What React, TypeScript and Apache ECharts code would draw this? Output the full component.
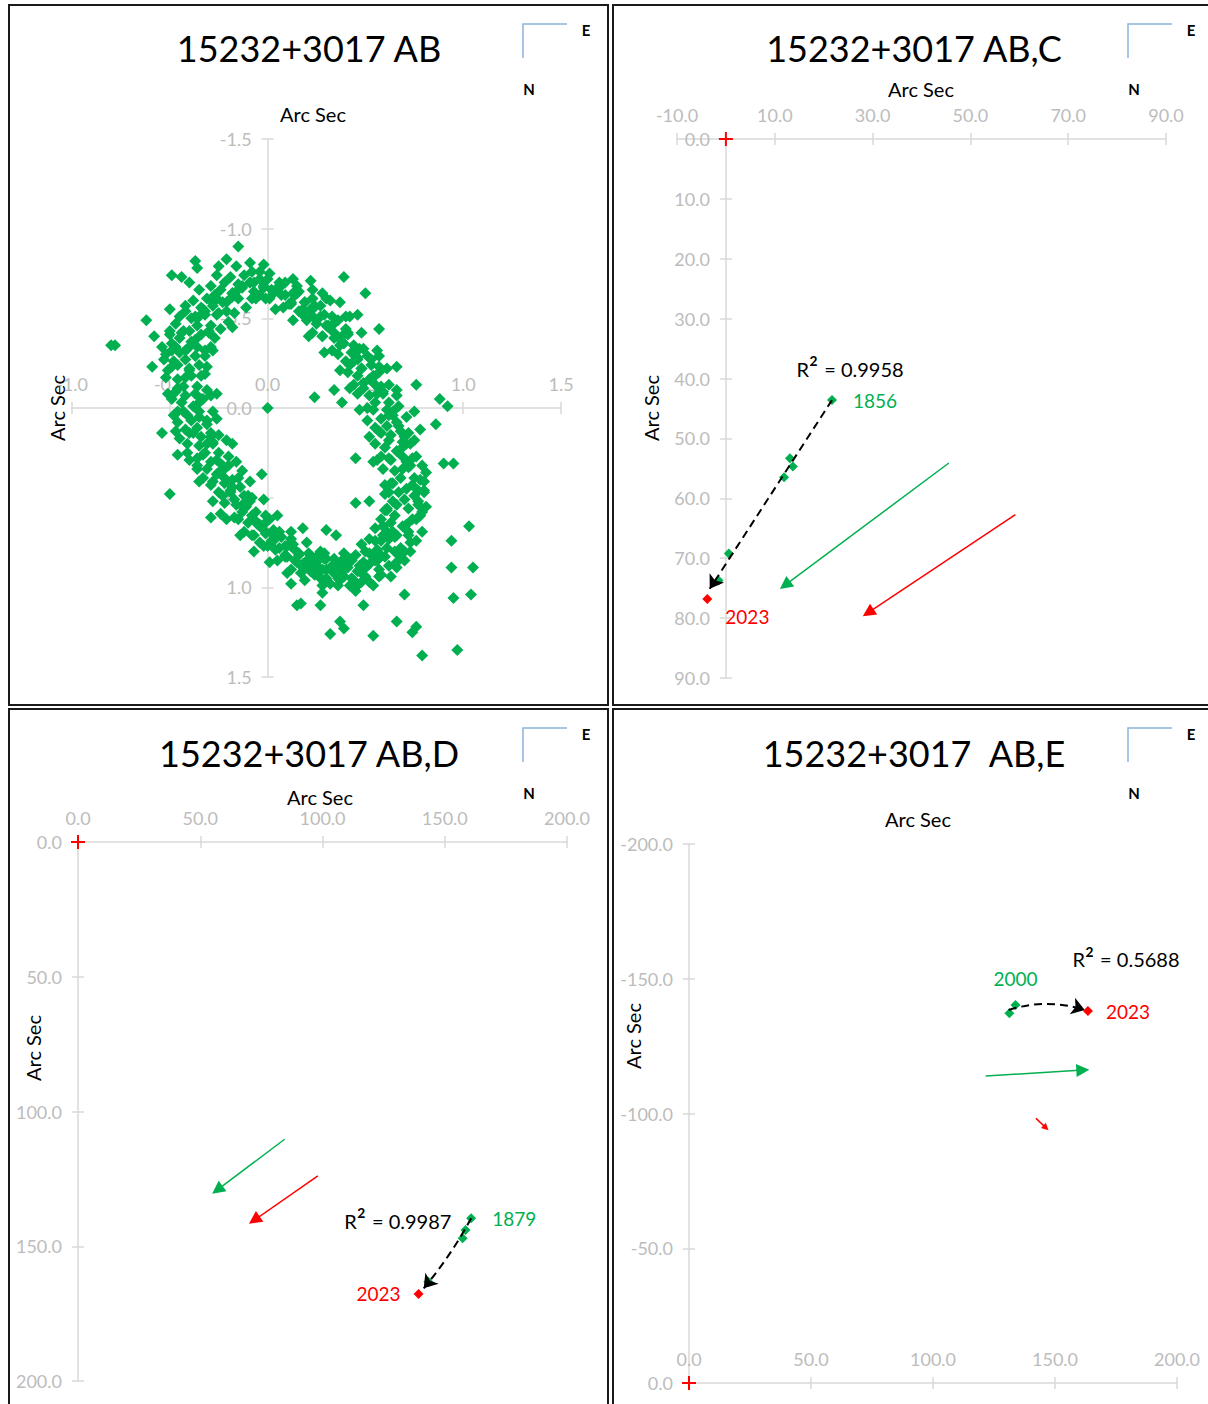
import React, { useEffect, useRef } from 'react';
import * as echarts from 'echarts';

const FONT = 'Lato, "Open Sans", sans-serif';
const GREEN = '#00B050';
const RED = '#FF0000';
const AXIS_COLOR = '#d9d9d9';
const LABEL_COLOR = '#bcbcbc';

// ---------- Panel 1 : 15232+3017 AB (relative positions, arc sec) ----------
const abPoints: number[][] = [
  [-0.09,-0.70],[-0.13,-0.67],[-0.04,-0.72],[-0.07,-0.65],[-0.12,-0.74],[-0.02,-0.67],[-0.15,-0.69],[-0.08,-0.76],
  [0.04,-0.66],[-0.02,-0.68],[0.07,-0.63],[0.01,-0.61],[0.09,-0.70],[0.00,-0.72],[0.06,-0.67],[-0.04,-0.63],
  [0.12,-0.59],[0.16,-0.65],[0.08,-0.56],[0.19,-0.59],[0.13,-0.64],[0.09,-0.63],[0.18,-0.55],[0.15,-0.68],
  [0.22,-0.55],[0.18,-0.52],[0.27,-0.57],[0.24,-0.50],[0.19,-0.59],[0.29,-0.52],[0.16,-0.54],[0.23,-0.61],
  [0.31,-0.45],[0.25,-0.47],[0.34,-0.42],[0.28,-0.40],[0.36,-0.49],[0.27,-0.51],[0.33,-0.46],[0.23,-0.42],
  [0.37,-0.35],[0.41,-0.41],[0.33,-0.32],[0.44,-0.35],[0.38,-0.40],[0.34,-0.39],[0.43,-0.31],[0.40,-0.44],
  [0.46,-0.27],[0.42,-0.24],[0.51,-0.29],[0.48,-0.22],[0.43,-0.31],[0.53,-0.24],[0.40,-0.26],[0.47,-0.33],
  [0.52,-0.16],[0.46,-0.18],[0.55,-0.13],[0.49,-0.11],[0.57,-0.20],[0.48,-0.22],[0.54,-0.17],[0.44,-0.13],
  [0.55,-0.03],[0.59,-0.09],[0.51,0.00],[0.62,-0.03],[0.56,-0.08],[0.52,-0.07],[0.61,0.01],[0.58,-0.12],
  [0.61,0.10],[0.57,0.13],[0.66,0.08],[0.63,0.15],[0.58,0.06],[0.68,0.13],[0.55,0.11],[0.62,0.04],
  [0.66,0.24],[0.60,0.22],[0.69,0.27],[0.63,0.29],[0.71,0.20],[0.62,0.18],[0.68,0.23],[0.58,0.27],
  [0.68,0.39],[0.72,0.33],[0.64,0.42],[0.75,0.39],[0.69,0.34],[0.65,0.35],[0.74,0.43],[0.71,0.30],
  [0.70,0.51],[0.66,0.54],[0.75,0.49],[0.72,0.56],[0.67,0.47],[0.77,0.54],[0.64,0.52],[0.71,0.45],
  [0.69,0.66],[0.63,0.64],[0.72,0.69],[0.66,0.71],[0.74,0.62],[0.65,0.60],[0.71,0.65],[0.61,0.69],
  [0.61,0.78],[0.65,0.72],[0.57,0.81],[0.68,0.78],[0.62,0.73],[0.58,0.74],[0.67,0.82],[0.64,0.69],
  [0.55,0.85],[0.51,0.88],[0.60,0.83],[0.57,0.90],[0.52,0.81],[0.62,0.88],[0.49,0.86],[0.56,0.79],
  [0.47,0.91],[0.41,0.89],[0.50,0.94],[0.44,0.96],[0.52,0.87],[0.43,0.85],[0.49,0.90],[0.39,0.94],
  [0.36,0.95],[0.40,0.89],[0.32,0.98],[0.43,0.95],[0.37,0.90],[0.33,0.91],[0.42,0.99],[0.39,0.86],
  [0.28,0.90],[0.24,0.93],[0.33,0.88],[0.30,0.95],[0.25,0.86],[0.35,0.93],[0.22,0.91],[0.29,0.84],
  [0.20,0.87],[0.14,0.85],[0.23,0.90],[0.17,0.92],[0.25,0.83],[0.16,0.81],[0.22,0.86],[0.12,0.90],
  [0.09,0.82],[0.13,0.76],[0.05,0.85],[0.16,0.82],[0.10,0.77],[0.06,0.78],[0.15,0.86],[0.12,0.73],
  [0.02,0.74],[-0.02,0.77],[0.07,0.72],[0.04,0.79],[-0.01,0.70],[0.09,0.77],[-0.04,0.75],[0.03,0.68],
  [-0.04,0.66],[-0.10,0.64],[-0.01,0.69],[-0.07,0.71],[0.01,0.62],[-0.08,0.60],[-0.02,0.65],[-0.12,0.69],
  [-0.13,0.58],[-0.09,0.52],[-0.17,0.61],[-0.06,0.58],[-0.12,0.53],[-0.16,0.54],[-0.07,0.62],[-0.10,0.49],
  [-0.19,0.46],[-0.23,0.49],[-0.14,0.44],[-0.17,0.51],[-0.22,0.42],[-0.12,0.49],[-0.25,0.47],[-0.18,0.40],
  [-0.25,0.36],[-0.31,0.34],[-0.22,0.39],[-0.28,0.41],[-0.20,0.32],[-0.29,0.30],[-0.23,0.35],[-0.33,0.39],
  [-0.32,0.25],[-0.28,0.19],[-0.36,0.28],[-0.25,0.25],[-0.31,0.20],[-0.35,0.21],[-0.26,0.29],[-0.29,0.16],
  [-0.36,0.11],[-0.40,0.14],[-0.31,0.09],[-0.34,0.16],[-0.39,0.07],[-0.29,0.14],[-0.42,0.12],[-0.35,0.05],
  [-0.38,-0.01],[-0.44,-0.03],[-0.35,0.02],[-0.41,0.04],[-0.33,-0.05],[-0.42,-0.07],[-0.36,-0.02],[-0.46,0.02],
  [-0.43,-0.12],[-0.39,-0.18],[-0.47,-0.09],[-0.36,-0.12],[-0.42,-0.17],[-0.46,-0.16],[-0.37,-0.08],[-0.40,-0.21],
  [-0.42,-0.27],[-0.46,-0.24],[-0.37,-0.29],[-0.40,-0.22],[-0.45,-0.31],[-0.35,-0.24],[-0.48,-0.26],[-0.41,-0.33],
  [-0.39,-0.37],[-0.45,-0.39],[-0.36,-0.34],[-0.42,-0.32],[-0.34,-0.41],[-0.43,-0.43],[-0.37,-0.38],[-0.47,-0.34],
  [-0.36,-0.46],[-0.32,-0.52],[-0.40,-0.43],[-0.29,-0.46],[-0.35,-0.51],[-0.39,-0.50],[-0.30,-0.42],[-0.33,-0.55],
  [-0.28,-0.57],[-0.32,-0.54],[-0.23,-0.59],[-0.26,-0.52],[-0.31,-0.61],[-0.21,-0.54],[-0.34,-0.56],[-0.27,-0.63],
  [-0.18,-0.64],[-0.24,-0.66],[-0.15,-0.61],[-0.21,-0.59],[-0.13,-0.68],[-0.22,-0.70],[-0.16,-0.65],[-0.26,-0.61],
  // wider spread of the ring
  [-0.18,-0.64],[0.01,-0.75],[-0.01,-0.61],[-0.16,-0.79],[0.02,-0.66],[-0.19,-0.73],
  [-0.06,-0.61],[0.13,-0.72],[0.11,-0.58],[-0.04,-0.76],[0.14,-0.63],[-0.07,-0.70],
  [0.04,-0.55],[0.23,-0.66],[0.21,-0.52],[0.06,-0.70],[0.24,-0.57],[0.03,-0.64],
  [0.13,-0.49],[0.32,-0.60],[0.30,-0.46],[0.15,-0.64],[0.33,-0.51],[0.12,-0.58],
  [0.21,-0.40],[0.40,-0.51],[0.38,-0.37],[0.23,-0.55],[0.41,-0.42],[0.20,-0.49],
  [0.29,-0.31],[0.48,-0.42],[0.46,-0.28],[0.31,-0.46],[0.49,-0.33],[0.28,-0.40],
  [0.37,-0.21],[0.56,-0.32],[0.54,-0.18],[0.39,-0.36],[0.57,-0.23],[0.36,-0.30],
  [0.42,-0.11],[0.61,-0.22],[0.59,-0.08],[0.44,-0.26],[0.62,-0.13],[0.41,-0.20],
  [0.47,0.01],[0.66,-0.10],[0.64,0.04],[0.49,-0.14],[0.67,-0.01],[0.46,-0.08],
  [0.52,0.16],[0.71,0.05],[0.69,0.19],[0.54,0.01],[0.72,0.14],[0.51,0.07],
  [0.56,0.29],[0.75,0.18],[0.73,0.32],[0.58,0.14],[0.76,0.27],[0.55,0.20],
  [0.60,0.43],[0.79,0.32],[0.77,0.46],[0.62,0.28],[0.80,0.41],[0.59,0.34],
  [0.61,0.57],[0.80,0.46],[0.78,0.60],[0.63,0.42],[0.81,0.55],[0.60,0.48],
  [0.59,0.71],[0.78,0.60],[0.76,0.74],[0.61,0.56],[0.79,0.69],[0.58,0.62],
  [0.53,0.82],[0.72,0.71],[0.70,0.85],[0.55,0.67],[0.73,0.80],[0.52,0.73],
  [0.46,0.91],[0.65,0.80],[0.63,0.94],[0.48,0.76],[0.66,0.89],[0.45,0.82],
  [0.37,0.96],[0.56,0.85],[0.54,0.99],[0.39,0.81],[0.57,0.94],[0.36,0.87],
  [0.28,0.99],[0.47,0.88],[0.45,1.02],[0.30,0.84],[0.48,0.97],[0.27,0.90],
  [0.19,0.96],[0.38,0.85],[0.36,0.99],[0.21,0.81],[0.39,0.94],[0.18,0.87],
  [0.10,0.92],[0.29,0.81],[0.27,0.95],[0.12,0.77],[0.30,0.90],[0.09,0.83],
  [0.01,0.86],[0.20,0.75],[0.18,0.89],[0.03,0.71],[0.21,0.84],[0.00,0.77],
  [-0.07,0.80],[0.12,0.69],[0.10,0.83],[-0.05,0.65],[0.13,0.78],[-0.08,0.71],
  [-0.14,0.71],[0.05,0.60],[0.03,0.74],[-0.12,0.56],[0.06,0.69],[-0.15,0.62],
  [-0.21,0.62],[-0.02,0.51],[-0.04,0.65],[-0.19,0.47],[-0.01,0.60],[-0.22,0.53],
  [-0.28,0.52],[-0.09,0.41],[-0.11,0.55],[-0.26,0.37],[-0.08,0.50],[-0.29,0.43],
  [-0.35,0.41],[-0.16,0.30],[-0.18,0.44],[-0.33,0.26],[-0.15,0.39],[-0.36,0.32],
  [-0.40,0.29],[-0.21,0.18],[-0.23,0.32],[-0.38,0.14],[-0.20,0.27],[-0.41,0.20],
  [-0.45,0.17],[-0.26,0.06],[-0.28,0.20],[-0.43,0.02],[-0.25,0.15],[-0.46,0.08],
  [-0.48,0.04],[-0.29,-0.07],[-0.31,0.07],[-0.46,-0.11],[-0.28,0.02],[-0.49,-0.05],
  [-0.51,-0.08],[-0.32,-0.19],[-0.34,-0.05],[-0.49,-0.23],[-0.31,-0.10],[-0.52,-0.17],
  [-0.51,-0.21],[-0.32,-0.32],[-0.34,-0.18],[-0.49,-0.36],[-0.31,-0.23],[-0.52,-0.30],
  [-0.49,-0.32],[-0.30,-0.43],[-0.32,-0.29],[-0.47,-0.47],[-0.29,-0.34],[-0.50,-0.41],
  [-0.44,-0.42],[-0.25,-0.53],[-0.27,-0.39],[-0.42,-0.57],[-0.24,-0.44],[-0.45,-0.51],
  [-0.37,-0.51],[-0.18,-0.62],[-0.20,-0.48],[-0.35,-0.66],[-0.17,-0.53],[-0.38,-0.60],
  [-0.28,-0.59],[-0.09,-0.70],[-0.11,-0.56],[-0.26,-0.74],[-0.08,-0.61],[-0.29,-0.68],
  // denser lower-right band
  [0.74,0.28],[0.78,0.40],[0.80,0.47],[0.79,0.58],[0.76,0.62],[0.73,0.75],[0.70,0.80],[0.66,0.86],
  [0.58,0.93],[0.52,0.97],[0.45,1.00],[0.60,0.57],[0.62,0.47],[0.59,0.66],[0.55,0.74],[0.50,0.80],
  [0.73,0.20],[0.70,0.16],[0.77,0.52],[0.81,0.36],[0.67,0.10],[0.64,0.02],[0.42,0.84],[0.34,0.84],[0.27,0.80],
  // scattered outliers
  [0.00,0.00],
  [-0.15,-0.90],[-0.21,-0.83],[-0.37,-0.82],[-0.36,-0.78],[-0.49,-0.74],[-0.44,-0.73],[-0.40,-0.70],
  [-0.25,-0.79],[-0.09,-0.81],[-0.02,-0.80],[-0.50,-0.55],[-0.42,-0.54],[-0.62,-0.49],[-0.78,-0.35],
  [-0.80,-0.35],[-0.50,-0.43],[-0.58,-0.40],[-0.54,-0.34],[-0.59,-0.23],[-0.53,-0.27],[-0.28,-0.32],
  [-0.26,-0.08],[-0.18,-0.45],[-0.54,0.14],[-0.47,0.13],[-0.18,0.20],[-0.50,0.48],[-0.29,0.61],
  [-0.24,0.59],[-0.46,0.26],[-0.41,0.25],[-0.03,0.37],[-0.13,0.35],[-0.36,0.34],[0.12,0.98],[0.15,1.10],
  [0.22,-0.71],[0.39,-0.73],[0.50,-0.64],[0.28,-0.64],[0.30,-0.61],[0.37,-0.59],[0.42,-0.51],[0.46,-0.52],
  [0.57,-0.44],[0.66,-0.23],[0.53,-0.27],[0.57,-0.29],[0.76,-0.13],[0.34,-0.10],[0.24,-0.06],[0.38,-0.03],
  [0.88,-0.05],[0.92,-0.01],[0.75,0.02],[0.86,0.09],[0.66,-0.07],[0.78,0.12],
  [0.45,0.28],[0.54,0.30],[0.90,0.31],[0.95,0.31],[0.45,0.53],[0.52,0.52],[1.03,0.66],[0.94,0.74],
  [0.94,0.89],[1.05,0.89],[0.95,1.06],[1.04,1.04],[0.70,1.04],[0.66,1.19],[0.76,1.22],[0.74,1.25],
  [0.79,1.38],[0.97,1.35],[0.54,1.27],[0.17,1.09],[0.32,1.26],[0.37,1.19],[0.39,1.23],[0.28,1.03],
  [0.27,1.10],[0.49,1.10],[0.18,0.67],[0.30,0.68],[0.35,0.71]
];

// ---------- Panel 2 : AB,C ----------
const abcObs: number[][] = [[21.7,43.6],[13.1,53.3],[13.7,54.7],[11.9,56.5],[0.6,69.2],[-1.5,73.7]];
const abcLast: number[][] = [[-3.8,76.8]];
const abcTrend: number[][] = [[21.7,43.6],[-3.3,75.1]];
const abcGreenArrow: number[][] = [[45.6,54.1],[12.1,74.5]];
const abcRedArrow: number[][] = [[59.2,62.7],[29.1,79.1]];
const abcR2At: number[] = [25.4,38.4];

// ---------- Panel 3 : AB,D ----------
const abdObs: number[][] = [[160.8,139.6],[158.5,144.0],[157.3,147.0],[143.3,163.2]];
const abdLast: number[][] = [[139.3,167.7]];
const abdTrend: number[][] = [[160.8,139.6],[141.4,165.6]];
const abdGreenArrow: number[][] = [[84.5,110.3],[57.0,129.1]];
const abdRedArrow: number[][] = [[98.1,123.9],[72.1,140.3]];
const abdR2At: number[] = [130.8,140.5];

// ---------- Panel 4 : AB,E ----------
const abeObs: number[][] = [[131.3,-137.2],[133.8,-140.3]];
const abeLast: number[][] = [[163.5,-138.0]];
const abeTrend: number[][] = [[131.0,-138.4],[162.2,-138.4]];
const abeGreenArrow: number[][] = [[121.6,-113.9],[161.4,-116.1]];
const abeRedArrow: number[][] = [[142.2,-98.2],[146.3,-94.7]];
const abeR2At: number[] = [179.1,-157.3];

const titles = ['15232+3017 AB', '15232+3017 AB,C', '15232+3017 AB,D', '15232+3017  AB,E'];
const r2Values = ['0.9958', '0.9987', '0.5688'];
const firstYears = ['1856', '1879', '2000'];
const lastYear = '2023';

const fmt = (v: number) => v.toFixed(1);

const baseAxisLine = { show: true, onZero: false, lineStyle: { color: AXIS_COLOR, width: 1.5 } };
const baseTick = { show: true, length: 6, lineStyle: { color: AXIS_COLOR, width: 1.5 } };

function xAxis(gi: number, min: number, max: number, interval: number) {
  return {
    type: 'value', gridIndex: gi, min, max, interval, position: 'top',
    axisLine: baseAxisLine, axisTick: baseTick,
    axisLabel: { show: true, color: LABEL_COLOR, fontSize: 18, fontFamily: FONT, margin: 15, formatter: fmt, showMinLabel: true, showMaxLabel: true },
    splitLine: { show: false },
  };
}
function xAxisTicks(gi: number, min: number, max: number, interval: number) {
  return {
    type: 'value', gridIndex: gi, min, max, interval, position: 'bottom',
    axisLine: { show: false, onZero: false }, axisTick: baseTick, axisLabel: { show: false }, splitLine: { show: false },
  };
}
function yAxis(gi: number, min: number, max: number, interval: number) {
  return {
    type: 'value', gridIndex: gi, min, max, interval, position: 'left', inverse: true,
    axisLine: baseAxisLine, axisTick: baseTick,
    axisLabel: { show: true, color: LABEL_COLOR, fontSize: 18, fontFamily: FONT, margin: 16, formatter: fmt, showMinLabel: true, showMaxLabel: true },
    splitLine: { show: false },
  };
}
function yAxisTicks(gi: number, min: number, max: number, interval: number) {
  return {
    type: 'value', gridIndex: gi, min, max, interval, position: 'right', inverse: true,
    axisLine: { show: false, onZero: false }, axisTick: baseTick, axisLabel: { show: false }, splitLine: { show: false },
  };
}

const CROSS = 'path://M6,0h2v14h-2zM0,6h14v2h-14z';

function arrowSeries(gi: number, pts: number[][], color: string, width: number, dashed: boolean, head: string, size: number, curveness: number) {
  return {
    type: 'lines', coordinateSystem: 'cartesian2d', xAxisIndex: gi, yAxisIndex: gi, silent: true, z: 5,
    symbol: ['none', head], symbolSize: size,
    lineStyle: { color, width, type: dashed ? [8, 5] : 'solid', curveness, opacity: 1 },
    itemStyle: { color },
    data: [{ coords: pts }],
  };
}

const richR2 = {
  r: { fontSize: 20, fontFamily: FONT, color: '#000' },
  s: { fontSize: 27, fontFamily: FONT, color: '#000', padding: [0, 1, 0, 0] },
};

function panelSeries(gi: number, obs: number[][], last: number[][], trend: number[][], green: number[][], red: number[][],
  r2At: number[], r2: string, firstYear: string, firstPos: string, lastPos: string, trendCurve: number, redHead: number) {
  return [
    {
      type: 'scatter', xAxisIndex: gi, yAxisIndex: gi, data: [[0, 0]], symbol: CROSS, symbolSize: 14,
      itemStyle: { color: RED, opacity: 1 }, silent: true, z: 3,
    },
    {
      type: 'scatter', xAxisIndex: gi, yAxisIndex: gi, data: obs, symbol: 'diamond', symbolSize: 10,
      itemStyle: { color: GREEN, opacity: 1 }, z: 3,
      label: {
        show: true, position: firstPos, distance: firstPos === 'top' ? 12 : 16, color: GREEN, fontSize: 19, fontFamily: FONT,
        formatter: (p: any) => (p.dataIndex === obs.length - 1 ? firstYear : ''),
      },
    },
    arrowSeries(gi, trend, '#000', 2, true, 'arrow', 13, trendCurve),
    arrowSeries(gi, green, GREEN, 1.5, false, 'triangle', 13, 0),
    arrowSeries(gi, red, RED, 1.5, false, 'triangle', redHead, 0),
    {
      type: 'scatter', xAxisIndex: gi, yAxisIndex: gi, data: last, symbol: 'diamond', symbolSize: 10,
      itemStyle: { color: RED, opacity: 1 }, z: 6,
      label: {
        show: true, position: lastPos, distance: 13, offset: gi === 1 ? [0, 18] : [0, 0],
        color: RED, fontSize: 19, fontFamily: FONT, formatter: lastYear,
      },
      markPoint: {
        silent: true, animation: false, symbol: 'circle', symbolSize: 1,
        itemStyle: { color: 'rgba(0,0,0,0)' },
        label: { show: true, position: 'inside', formatter: `{r|R}{s|²}{r| = ${r2}}`, rich: richR2 },
        data: [{ name: 'R2', coord: r2At }],
      },
    },
  ];
}

function compass(x: number, y: number) {
  return [
    { type: 'polyline', silent: true, shape: { points: [[x, y + 34], [x, y], [x + 44, y]] }, style: { stroke: '#8db3dc', lineWidth: 1.5, fill: null } },
    { type: 'text', silent: true, x: x + 63, y: y + 6, style: { text: 'E', font: `bold 15px ${FONT}`, fill: '#000', align: 'center', verticalAlign: 'middle' } },
    { type: 'text', silent: true, x: x + 6, y: y + 65, style: { text: 'N', font: `bold 15px ${FONT}`, fill: '#000', align: 'center', verticalAlign: 'middle' } },
  ];
}
function txt(text: string, x: number, y: number, size: number, rotate = 0) {
  return { type: 'text', silent: true, x, y, rotation: rotate, style: { text, font: `${size}px ${FONT}`, fill: '#000', align: 'center', verticalAlign: 'middle' } };
}

const grids = [
  { left: 72, top: 139, width: 489, height: 538 },
  { left: 677, top: 139, width: 489, height: 539 },
  { left: 78, top: 842, width: 489, height: 539 },
  { left: 689, top: 844, width: 488, height: 539 },
];
const xRanges = [[-1, 1.5, 0.5], [-10, 90, 20], [0, 200, 50], [0, 200, 50]];
const yRanges = [[-1.5, 1.5, 0.5], [0, 90, 10], [0, 200, 50], [-200, 0, 50]];

export default function App() {
  const ref = useRef<HTMLDivElement>(null);
  useEffect(() => {
    if (!ref.current) return;
    const chart = echarts.init(ref.current, null, { renderer: 'svg' });
    const option: any = {
      animation: false,
      backgroundColor: '#ffffff',
      grid: grids,
      xAxis: [
        ...xRanges.map((r, i) => xAxis(i, r[0], r[1], r[2])),
        ...xRanges.map((r, i) => xAxisTicks(i, r[0], r[1], r[2])),
      ],
      yAxis: [
        ...yRanges.map((r, i) => yAxis(i, r[0], r[1], r[2])),
        ...yRanges.map((r, i) => yAxisTicks(i, r[0], r[1], r[2])),
      ],
      series: [
        {
          type: 'scatter', xAxisIndex: 0, yAxisIndex: 0, data: abPoints, symbol: 'diamond', symbolSize: 12,
          itemStyle: { color: GREEN, opacity: 1 }, z: 3,
        },
        ...panelSeries(1, abcObs.slice().reverse(), abcLast, abcTrend, abcGreenArrow, abcRedArrow, abcR2At, r2Values[0], firstYears[0], 'right', 'right', 0, 13),
        ...panelSeries(2, abdObs.slice().reverse(), abdLast, abdTrend, abdGreenArrow, abdRedArrow, abdR2At, r2Values[1], firstYears[1], 'right', 'left', 0.05, 13),
        ...panelSeries(3, abeObs, abeLast, abeTrend, abeGreenArrow, abeRedArrow, abeR2At, r2Values[2], firstYears[2], 'top', 'right', 0.16, 7),
      ],
      graphic: [
        { type: 'rect', silent: true, shape: { x: 9, y: 5, width: 599, height: 700 }, style: { fill: null, stroke: '#1a1a1a', lineWidth: 2 } },
        { type: 'rect', silent: true, shape: { x: 613, y: 5, width: 600, height: 700 }, style: { fill: null, stroke: '#1a1a1a', lineWidth: 2 } },
        { type: 'rect', silent: true, shape: { x: 9, y: 709, width: 599, height: 700 }, style: { fill: null, stroke: '#1a1a1a', lineWidth: 2 } },
        { type: 'rect', silent: true, shape: { x: 613, y: 709, width: 600, height: 700 }, style: { fill: null, stroke: '#1a1a1a', lineWidth: 2 } },
        ...compass(523, 24), ...compass(1128, 24), ...compass(523, 728), ...compass(1128, 728),
        txt(titles[0], 309, 48, 36), txt(titles[1], 914, 48, 36), txt(titles[2], 309, 753, 36), txt(titles[3], 914, 753, 36),
        txt('Arc Sec', 313, 114, 20), txt('Arc Sec', 57, 408, 20, Math.PI / 2),
        txt('Arc Sec', 921, 89, 20), txt('Arc Sec', 651, 408, 20, Math.PI / 2),
        txt('Arc Sec', 320, 797, 20), txt('Arc Sec', 33, 1048, 20, Math.PI / 2),
        txt('Arc Sec', 918, 819, 20), txt('Arc Sec', 633, 1036, 20, Math.PI / 2),
      ],
    };
    chart.setOption(option);
    // move the axes so that they cross at the origin (0, 0) of each panel
    const xUpd: any[] = [];
    const yUpd: any[] = [];
    grids.forEach((g, i) => {
      const p = chart.convertToPixel({ xAxisIndex: i, yAxisIndex: i } as any, [0, 0]) as number[];
      xUpd[i] = { offset: g.top - p[1] };
      xUpd[i + 4] = { offset: p[1] - (g.top + g.height) };
      yUpd[i] = { offset: g.left - p[0] };
      yUpd[i + 4] = { offset: p[0] - (g.left + g.width) };
    });
    chart.setOption({ xAxis: xUpd, yAxis: yUpd });
    return () => chart.dispose();
  }, []);
  return <div ref={ref} style={{ position: 'absolute', left: 0, top: 0, width: 1208, height: 1404 }} />;
}
